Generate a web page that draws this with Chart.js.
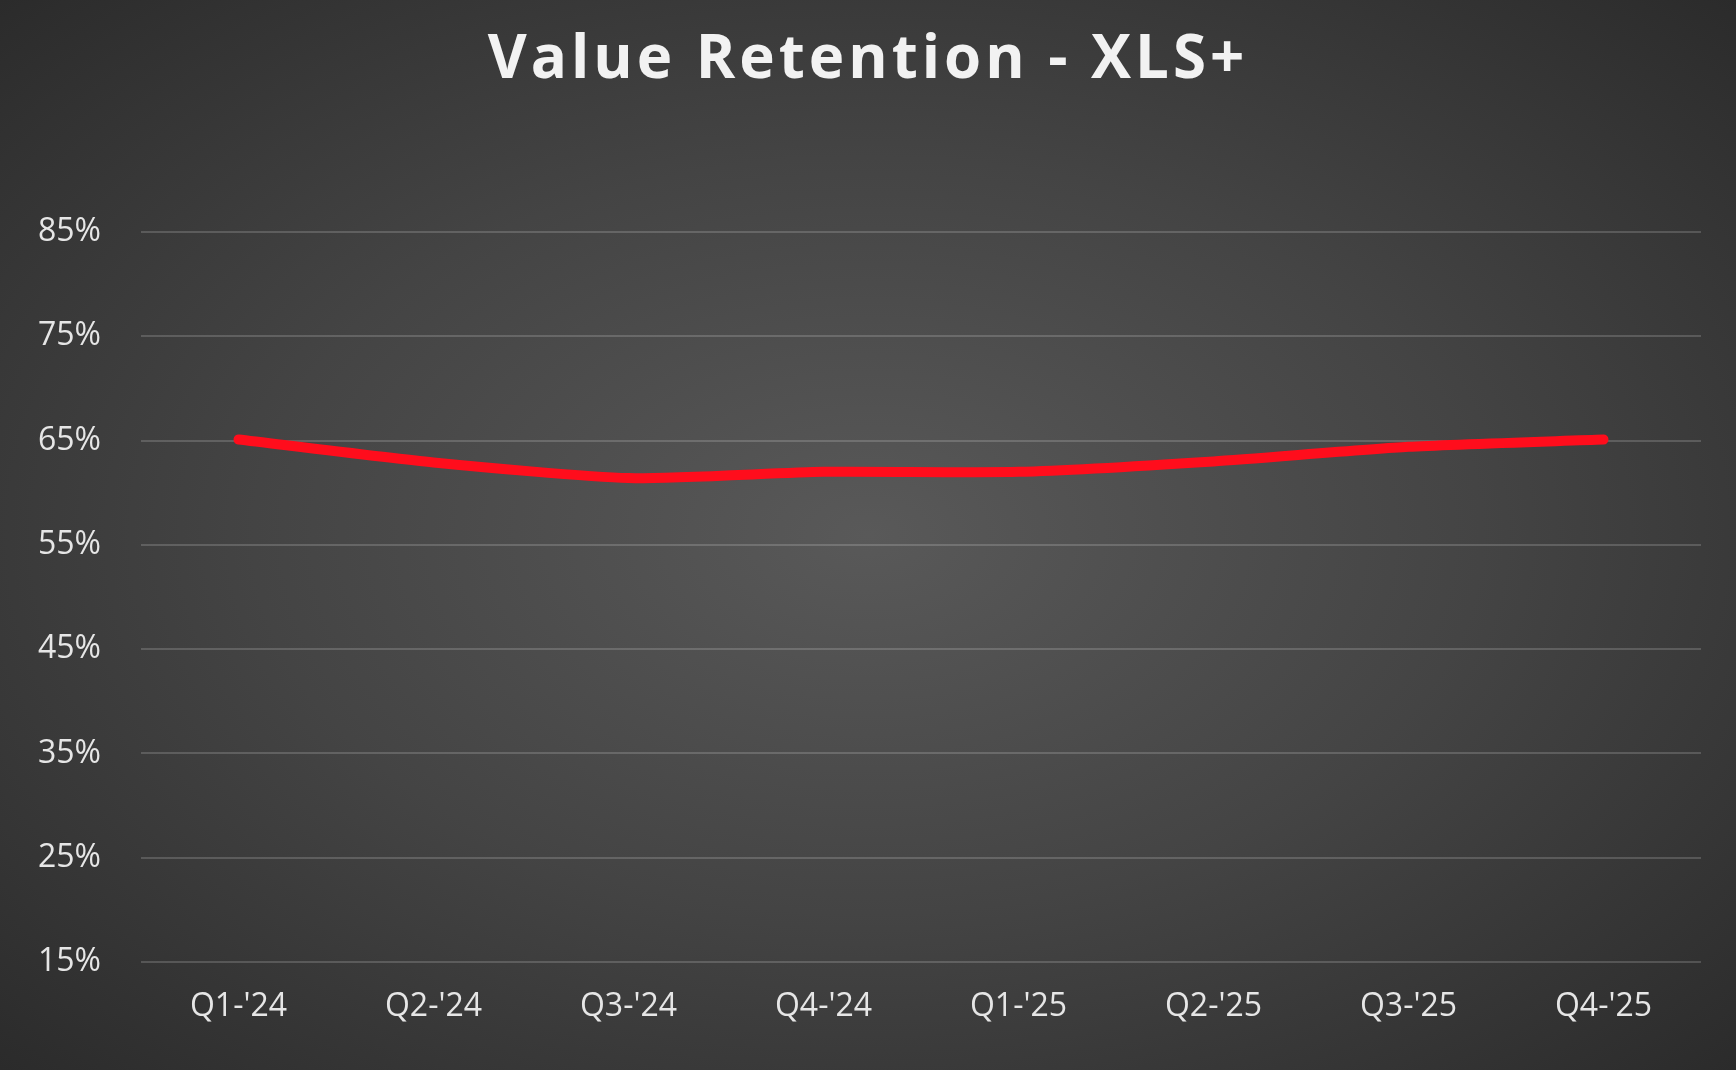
<!DOCTYPE html>
<html>
<head>
<meta charset="utf-8">
<script src="https://cdn.jsdelivr.net/npm/chart.js@4/dist/chart.umd.min.js"></script>
<style>
  html, body { margin: 0; padding: 0; width: 1736px; height: 1070px; overflow: hidden;
    background: radial-gradient(ellipse at 50% 50%, #595959 0%, #444 50%, #2b2b2b 100%); }
  #wrap { position: relative; width: 1736px; height: 1070px; }
  #title { position: absolute; left: 0; right: 0; top: 14px; margin: 0; text-align: center;
    font: bold 60px 'Open Sans', 'Noto Sans', sans-serif; letter-spacing: 4px; color: #f2f2f2; }
</style>
</head>
<body>
<div id="wrap"><h1 id="title">Value Retention - XLS+</h1><canvas id="c"></canvas></div>
<script>
  var QUARTERS = ["Q1-'24", "Q2-'24", "Q3-'24", "Q4-'24", "Q1-'25", "Q2-'25", "Q3-'25", "Q4-'25"];
  var RETENTION = [65.1, 62.9, 61.4, 62.0, 62.0, 63.0, 64.4, 65.1];
  var Y_MIN = 15, Y_MAX = 85, Y_STEP = 10;

  var TEXT = '#e6e6e6';
  var FONT = "'Open Sans', 'Noto Sans', sans-serif";

  new Chart(document.getElementById('c'), {
    type: 'line',
    data: { labels: QUARTERS, datasets: [{
      data: RETENTION, borderColor: '#ff0d1c', borderWidth: 10, tension: 0.2,
      pointRadius: 0, borderCapStyle: 'round', borderJoinStyle: 'round', fill: false
    }]},
    options: {
      responsive: true, maintainAspectRatio: false, animation: false,
      layout: { padding: { top: 232, left: 0, right: 35, bottom: 0 } },
      plugins: { legend: { display: false }, tooltip: { enabled: false } },
      scales: {
        x: { offset: true, grid: { display: false }, border: { display: false },
          ticks: { color: TEXT, font: { family: FONT, size: 32 }, padding: 18 },
          afterFit: function(s) { s.height = 108; } },
        y: { min: Y_MIN, max: Y_MAX, border: { display: false },
          grid: { color: 'rgba(255,255,255,0.17)', lineWidth: 2, drawTicks: false },
          ticks: { stepSize: Y_STEP, color: TEXT, font: { family: FONT, size: 32 }, padding: 40,
            callback: function(v) { return v + '%'; } },
          afterFit: function(s) { s.width = 141; } }
      }
    }
  });
</script>
</body>
</html>
